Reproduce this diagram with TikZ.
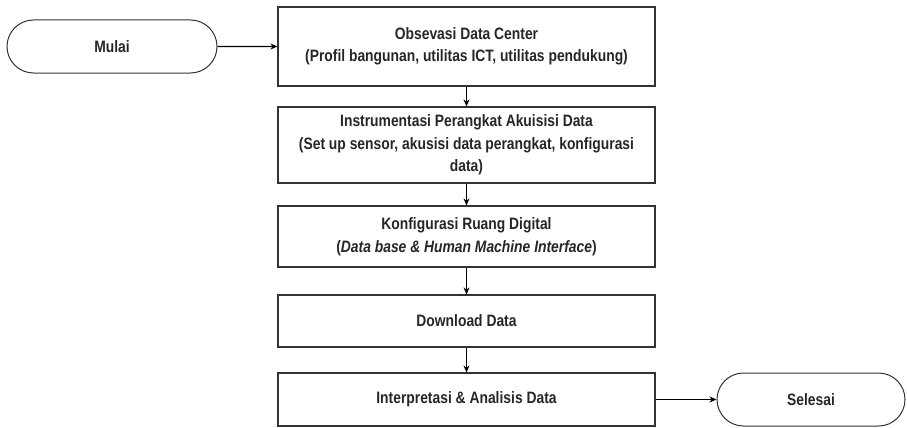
\documentclass[tikz,border=0pt]{standalone}
\usepackage{fontspec}
\setmainfont{Liberation Sans}[FakeStretch=0.84]
\usetikzlibrary{arrows.meta,shapes.misc}
\begin{document}
\begin{tikzpicture}[x=1pt,y=-1pt,
  every node/.style={font=\bfseries\fontsize{16.5}{22.5}\selectfont, text=black!85},
  stepbox/.style={draw=black!80, line width=1.2pt, minimum width=377pt, align=center, inner sep=0pt},
  terminal/.style={draw=black!80, line width=1pt, rounded rectangle, minimum width=210pt, minimum height=53pt, inner sep=0pt},
  flow/.style={draw=black, line width=1.2pt, -{Stealth[length=7pt,width=6pt]}}]
  \useasboundingbox (0,0) rectangle (907,428);

  \node[terminal] (start) at (112,46.5) {Mulai};
  \node[stepbox, minimum height=79pt] (obs) at (466.5,46.5)
    {Obsevasi Data Center\\(Profil bangunan, utilitas ICT, utilitas pendukung)};
  \node[stepbox, minimum height=76pt] (inst) at (466.5,145)
    {Instrumentasi Perangkat Akuisisi Data\\(Set up sensor, akusisi data perangkat, konfigurasi\\data)};
  \node[stepbox, minimum height=61pt] (conf) at (466.5,236.5)
    {Konfigurasi Ruang Digital\\(\textit{Data base \& Human Machine Interface})};
  \node[stepbox, minimum height=52pt] (down) at (466.5,321)
    {Download Data};
  \node[stepbox, minimum height=53pt] (anal) at (466.5,399.5)
    {Interpretasi \& Analisis Data};
  \node[terminal, minimum width=188pt] (end) at (811,399.5) {Selesai};

  \draw[flow] (start) -- (obs);
  \draw[flow] (obs) -- (inst);
  \draw[flow] (inst) -- (conf);
  \draw[flow] (conf) -- (down);
  \draw[flow] (down) -- (anal);
  \draw[flow] (anal) -- (end);
\end{tikzpicture}
\end{document}
